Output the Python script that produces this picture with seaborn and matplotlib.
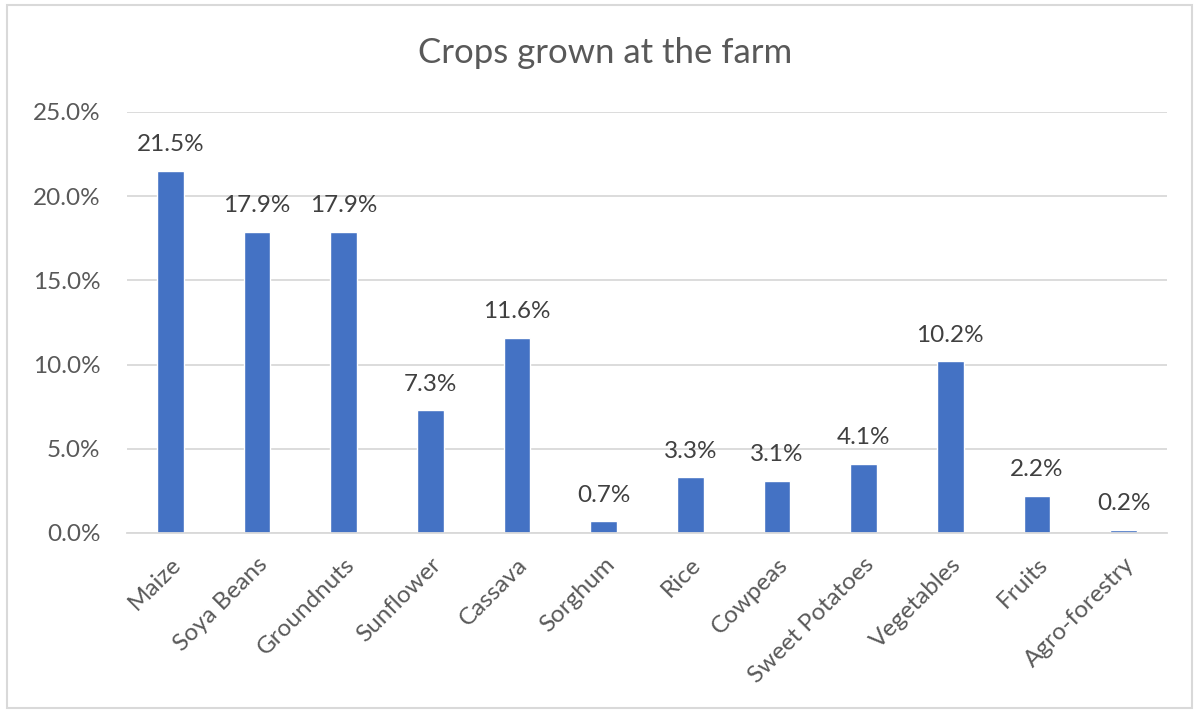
import matplotlib
matplotlib.use("Agg")
import matplotlib.pyplot as plt
from matplotlib.patches import Rectangle
from matplotlib.ticker import FuncFormatter, MultipleLocator
import seaborn as sns
import pandas as pd

crops = ["Maize", "Soya Beans", "Groundnuts", "Sunflower", "Cassava", "Sorghum",
         "Rice", "Cowpeas", "Sweet Potatoes", "Vegetables", "Fruits", "Agro-forestry"]
shares = [21.5, 17.9, 17.9, 7.3, 11.6, 0.7, 3.3, 3.1, 4.1, 10.2, 2.2, 0.2]

title = "Crops grown at the farm"
bar_color = "#4472C4"
text_color = "#595959"
grid_color = "#D9D9D9"

sns.set_theme(style="white")
plt.rcParams["font.family"] = ["Lato", "DejaVu Sans"]

df = pd.DataFrame({"crop": crops, "share": [v / 100 for v in shares]})

fig = plt.figure(figsize=(11.94, 7.13), dpi=100)
ax = fig.add_axes([0.1064, 0.2525, 0.8710, 0.5905])

sns.barplot(data=df, x="crop", y="share", color=bar_color, width=0.31,
            saturation=1, ax=ax)

ax.set_ylim(0, 0.25)
ax.set_xlim(-0.5, len(crops) - 0.5)
ax.yaxis.set_major_locator(MultipleLocator(0.05))
ax.yaxis.set_major_formatter(FuncFormatter(lambda v, _: f"{v * 100:.1f}%"))
ax.grid(axis="y", color=grid_color, linewidth=1.3)
ax.set_axisbelow(True)
for side in ["top", "right", "left"]:
    ax.spines[side].set_visible(False)
ax.spines["bottom"].set_color(grid_color)
ax.spines["bottom"].set_linewidth(1.3)
ax.set_xlabel("")
ax.set_ylabel("")

ax.tick_params(axis="y", length=0, pad=19, labelsize=17.5, labelcolor=text_color)
ax.tick_params(axis="x", length=0, pad=15, labelsize=17.5, labelcolor=text_color)
plt.setp(ax.get_xticklabels(), rotation=45, ha="right", rotation_mode="anchor")

for i, v in enumerate(shares):
    ax.annotate(f"{v:.1f}%", xy=(i, v / 100), xytext=(0, 14),
                textcoords="offset points", ha="center", va="baseline",
                fontsize=17.5, color="#404040")

fig.text(0.507, 0.912, title, ha="center", va="baseline",
         fontsize=25, color=text_color)

fig.patches.append(Rectangle((7 / 1194, 5 / 713), 1185 / 1194, 703 / 713,
                             transform=fig.transFigure, fill=False,
                             edgecolor=grid_color, linewidth=1.5))

fig.savefig("out.png", dpi=100)
